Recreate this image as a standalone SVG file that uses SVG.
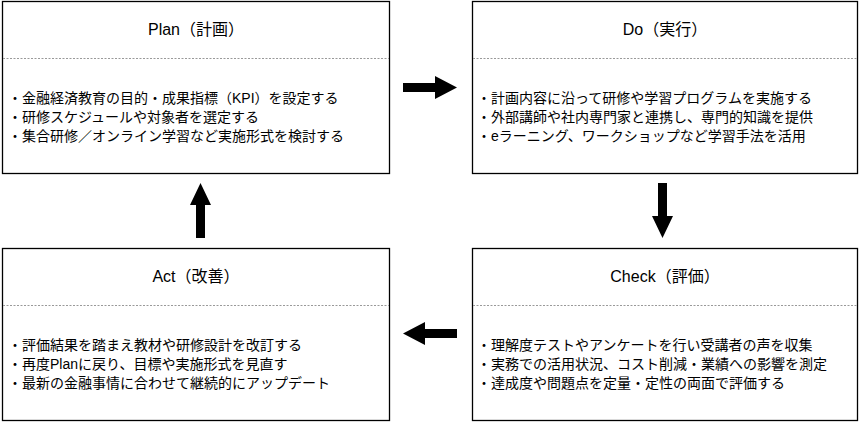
<svg xmlns="http://www.w3.org/2000/svg" width="860" height="422" viewBox="0 0 860 422">
<style>
.box{fill:#fff;stroke:#000;stroke-width:1.3}
.sep{stroke:#999;stroke-width:1;stroke-dasharray:2 1.5}
.t{font-family:"Liberation Sans","Noto Sans CJK JP",sans-serif;font-size:16px;text-anchor:middle;fill:#000}
.b{font-family:"Liberation Sans","Noto Sans CJK JP",sans-serif;font-size:14px;fill:#000}
.ar{fill:#000}
</style>
<rect width="860" height="422" fill="#fff"/>
<g id="plan">
<rect class="box" x="2.5" y="1.5" width="387" height="172"/>
<line class="sep" x1="3" y1="58.5" x2="389" y2="58.5"/>
<text class="t" x="196" y="35">Plan（計画）</text>
<text class="b" x="8" y="103">・金融経済教育の目的・成果指標（KPI）を設定する</text>
<text class="b" x="8" y="122">・研修スケジュールや対象者を選定する</text>
<text class="b" x="8" y="141">・集合研修／オンライン学習など実施形式を検討する</text>
</g>
<g id="do">
<rect class="box" x="472.5" y="1.5" width="385" height="172"/>
<line class="sep" x1="473" y1="58.5" x2="857" y2="58.5"/>
<text class="t" x="665" y="35">Do（実行）</text>
<text class="b" x="477" y="103">・計画内容に沿って研修や学習プログラムを実施する</text>
<text class="b" x="477" y="122">・外部講師や社内専門家と連携し、専門的知識を提供</text>
<text class="b" x="477" y="141">・eラーニング、ワークショップなど学習手法を活用</text>
</g>
<g id="act">
<rect class="box" x="2.5" y="248.5" width="387" height="172"/>
<line class="sep" x1="3" y1="305.5" x2="389" y2="305.5"/>
<text class="t" x="196" y="282">Act（改善）</text>
<text class="b" x="8" y="350">・評価結果を踏まえ教材や研修設計を改訂する</text>
<text class="b" x="8" y="369">・再度Planに戻り、目標や実施形式を見直す</text>
<text class="b" x="8" y="388">・最新の金融事情に合わせて継続的にアップデート</text>
</g>
<g id="check">
<rect class="box" x="472.5" y="248.5" width="385" height="172"/>
<line class="sep" x1="473" y1="305.5" x2="857" y2="305.5"/>
<text class="t" x="665" y="282">Check（評価）</text>
<text class="b" x="477" y="350">・理解度テストやアンケートを行い受講者の声を収集</text>
<text class="b" x="477" y="369">・実務での活用状況、コスト削減・業績への影響を測定</text>
<text class="b" x="477" y="388">・達成度や問題点を定量・定性の両面で評価する</text>
</g>
<g id="connectors">
<polygon class="ar" points="403,83 435,83 435,76 457,87.5 435,99 435,92 403,92"/>
<polygon class="ar" points="658,183 667,183 667,216 673,216 662.5,238 652,216 658,216"/>
<polygon class="ar" points="457,329 425,329 425,322 403,333.5 425,345 425,338 457,338"/>
<polygon class="ar" points="196,238 205,238 205,205 211,205 200.5,183 190,205 196,205"/>
</g>
</svg>
